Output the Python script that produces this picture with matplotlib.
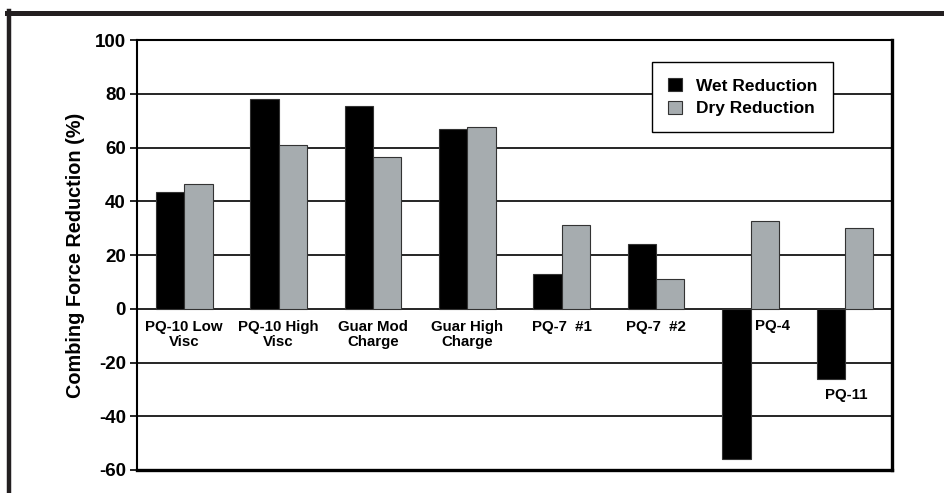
import matplotlib
matplotlib.use("Agg")
import matplotlib.pyplot as plt
from matplotlib.lines import Line2D
import numpy as np

plt.rcParams['font.family'] = ['Liberation Sans', 'DejaVu Sans']
plt.rcParams['font.weight'] = 'bold'
plt.rcParams['axes.unicode_minus'] = False

# datos
categorias = ["PQ-10 Low\nVisc", "PQ-10 High\nVisc", "Guar Mod\nCharge", "Guar High\nCharge",
              "PQ-7  #1", "PQ-7  #2", "PQ-4", "PQ-11"]
wet = [43.5, 78.0, 75.5, 67.0, 12.8, 24.2, -55.8, -26.0]
dry = [46.3, 61.0, 56.5, 67.5, 31.3, 11.0, 32.6, 30.2]
y_ticks = [-60, -40, -20, 0, 20, 40, 60, 80, 100]

color_wet = '#000000'
color_dry = '#a6acaf'

fig = plt.figure(figsize=(9.45, 4.93), dpi=100)
ax = fig.add_axes([0.145, 0.0467, 0.799, 0.872])

x = np.arange(len(categorias))
w = 0.3
ax.bar(x - w / 2, wet, w, color=color_wet, edgecolor='#333333', linewidth=0.8,
       label='Wet Reduction', zorder=3)
ax.bar(x + w / 2, dry, w, color=color_dry, edgecolor='#333333', linewidth=0.8,
       label='Dry Reduction', zorder=3)

ax.set_xlim(-0.5, len(categorias) - 0.5)
ax.set_ylim(-60, 100)
ax.set_yticks(y_ticks)
ax.set_yticklabels([str(t) for t in y_ticks], fontsize=13.5, fontweight='bold')
ax.set_xticks([])
ax.tick_params(axis='y', direction='out', length=5, width=1.2, pad=3)

# lineas horizontales
for t in y_ticks[1:-1]:
    ax.axhline(t, color='black', linewidth=1.2, zorder=1)

for side in ['left', 'top']:
    ax.spines[side].set_linewidth(1.5)
for side in ['right', 'bottom']:
    ax.spines[side].set_linewidth(2.4)

ax.set_ylabel('Combing Force Reduction (%)', fontsize=14.3, fontweight='bold', labelpad=7)

# etiquetas de categorias dentro del grafico
for i, cat in enumerate(categorias):
    if cat == "PQ-4":
        ax.text(i + 0.05, -3.8, cat, ha='left', va='top', fontsize=10.8,
                fontweight='bold', zorder=4)
    elif cat == "PQ-11":
        ax.text(i + 0.01, wet[i] - 3.5, cat, ha='center', va='top', fontsize=10.8,
                fontweight='bold', zorder=4)
    else:
        ax.text(i, -4.2, cat, ha='center', va='top', fontsize=10.8,
                fontweight='bold', linespacing=1.05, zorder=4)

leg = ax.legend(loc='upper right', bbox_to_anchor=(0.922, 0.949), fontsize=12.5,
                frameon=True, fancybox=False, shadow=False, borderpad=0.9,
                handlelength=0.85, handleheight=0.85, handletextpad=0.8,
                labelspacing=0.4, borderaxespad=0)
leg.get_frame().set_edgecolor('black')
leg.get_frame().set_linewidth(1.0)
leg.get_frame().set_alpha(1)
leg.set_zorder(5)

# marco exterior (arriba e izquierda)
fig.add_artist(Line2D([0.0075, 1.0], [0.9746, 0.9746], color='#231f20', linewidth=3.6,
                      transform=fig.transFigure))
fig.add_artist(Line2D([0.0095, 0.0095], [0.0, 0.977], color='#231f20', linewidth=3.2,
                      transform=fig.transFigure))

fig.savefig('out.png', dpi=100)
